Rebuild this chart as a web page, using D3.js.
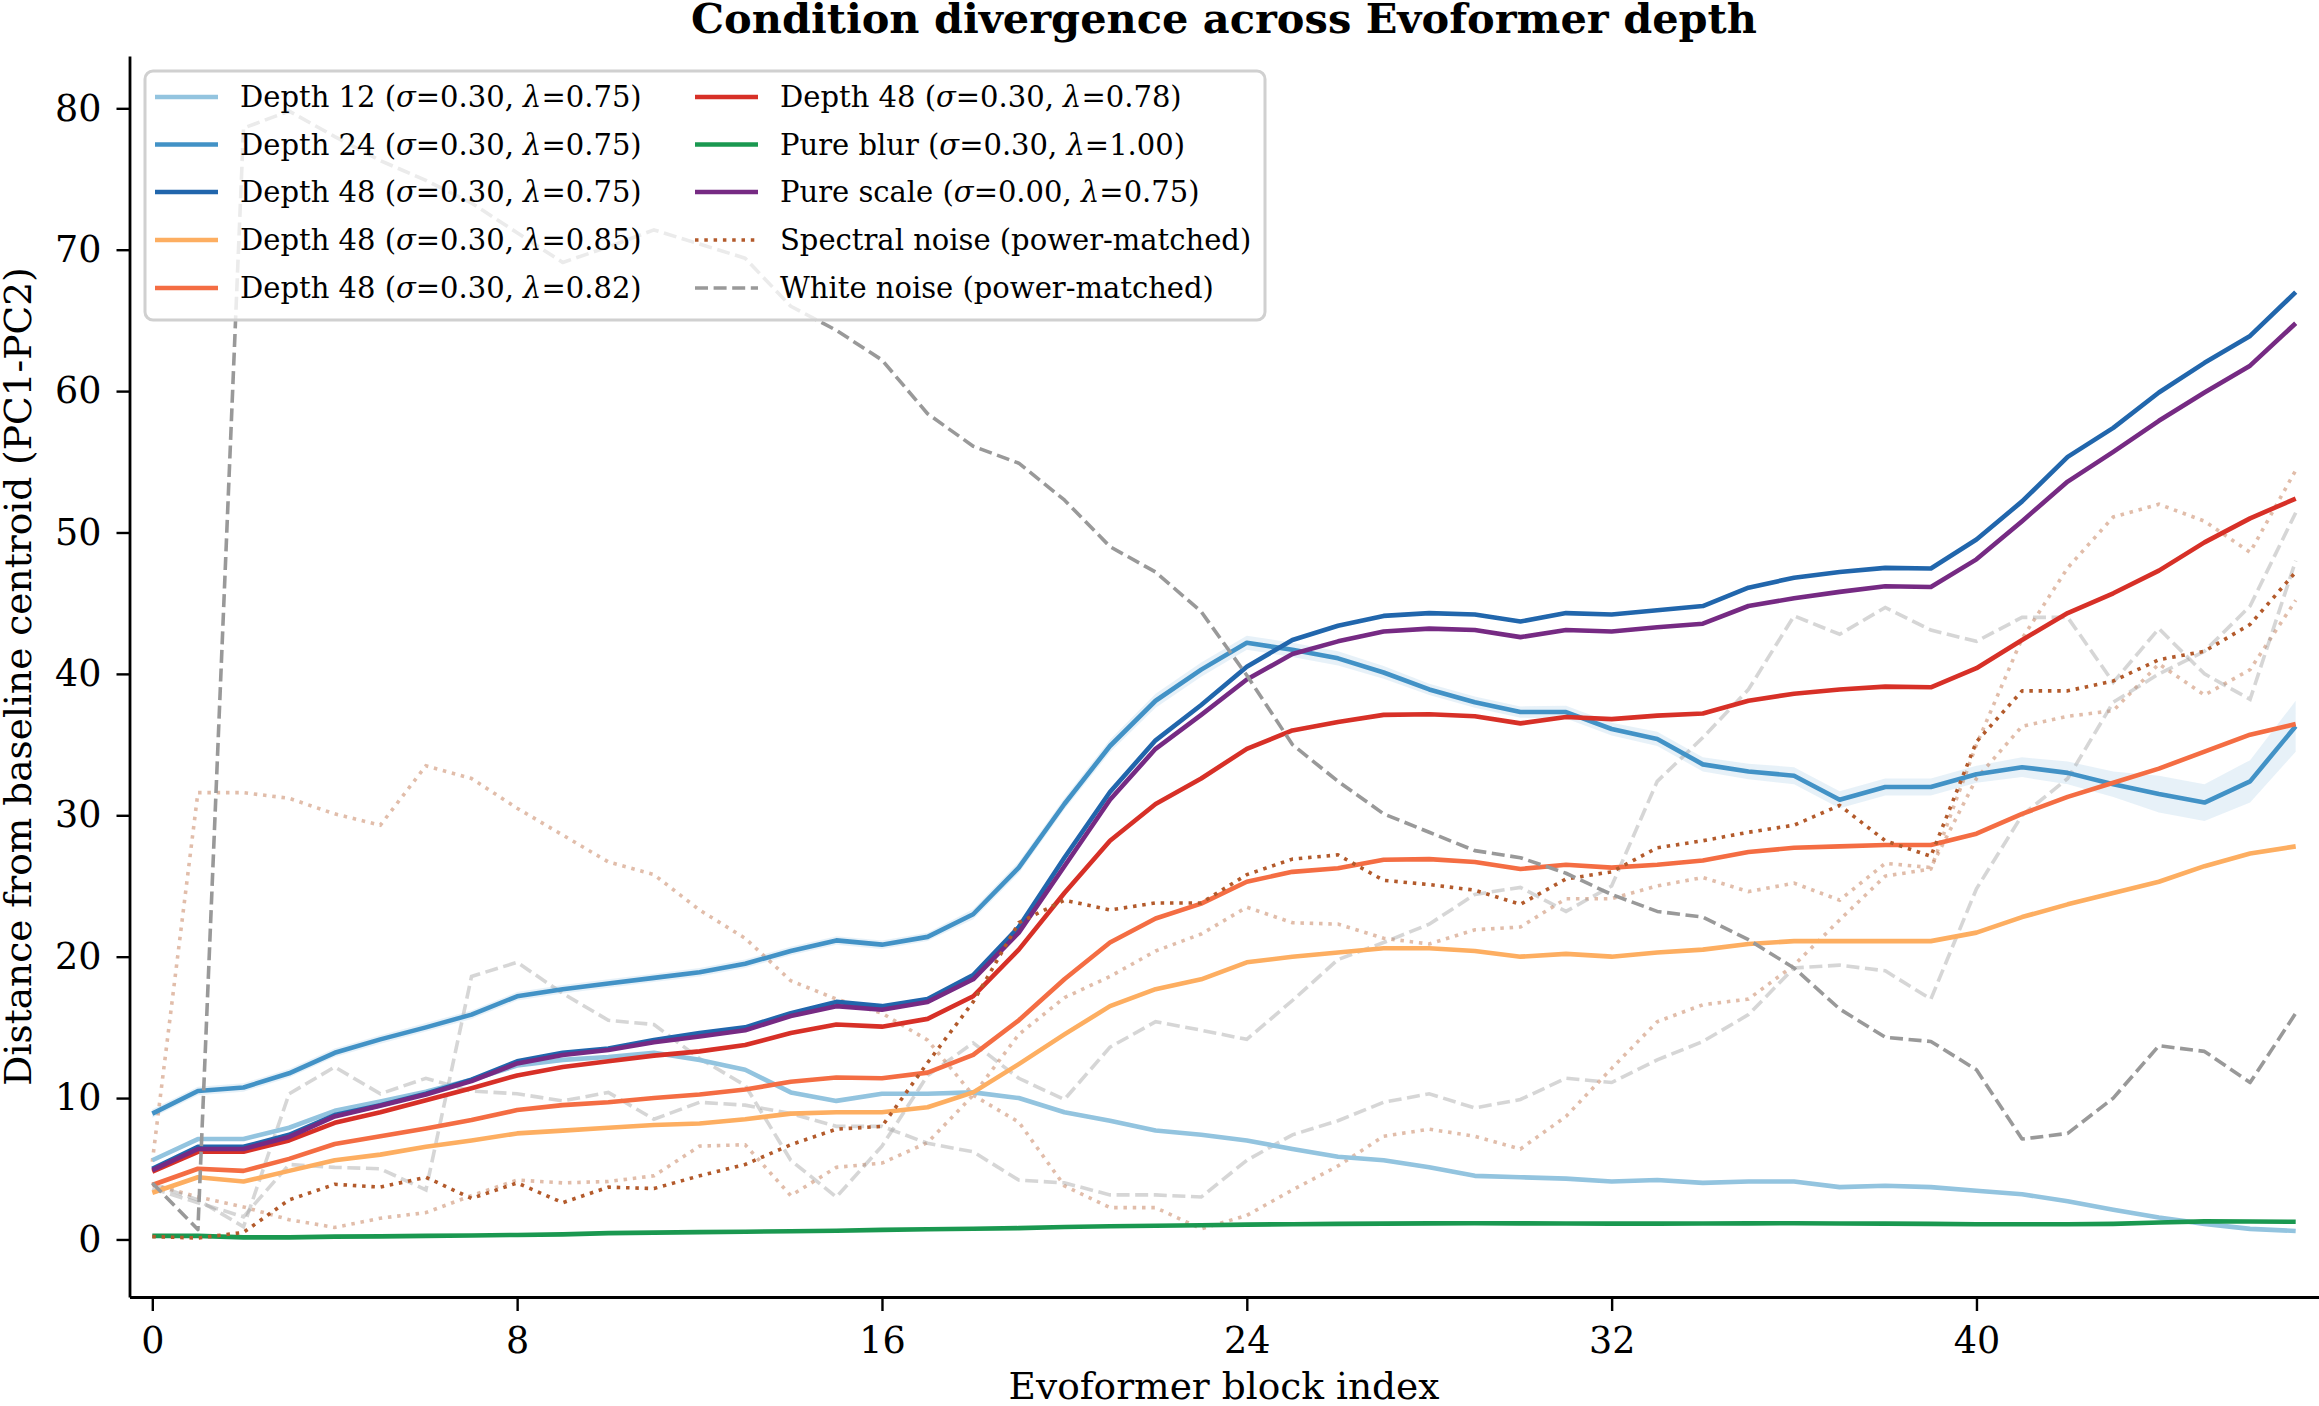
<!DOCTYPE html>
<html>
<head>
<meta charset="utf-8">
<script src="https://cdn.jsdelivr.net/npm/d3@7"></script>
<style>
  body { margin: 0; background: #fff; }
  svg text { font-family: "DejaVu Serif", serif; fill: #000; }
</style>
</head>
<body>
<div id="chart"></div>
<script>
// distance from baseline centroid, one value per Evoformer block (0..47)
var depth12 = [5.6, 7.1, 7.1, 7.9, 9.1, 9.75, 10.45, 11.3, 12.3, 12.7, 12.9, 13.2, 12.7, 12.0, 10.4, 9.8, 10.3, 10.3, 10.4, 10.0, 9.0, 8.4, 7.7, 7.4, 7.0, 6.4, 5.85, 5.6, 5.1, 4.5, 4.4, 4.3, 4.1, 4.2, 4.0, 4.1, 4.1, 3.7, 3.8, 3.7, 3.45, 3.2, 2.7, 2.1, 1.55, 1.1, 0.75, 0.6];
var depth24 = [8.9, 10.5, 10.75, 11.75, 13.2, 14.15, 15.0, 15.9, 17.2, 17.7, 18.1, 18.5, 18.9, 19.5, 20.4, 21.15, 20.85, 21.4, 23.0, 26.3, 30.8, 34.9, 38.1, 40.3, 42.2, 41.7, 41.1, 40.1, 38.9, 38.0, 37.3, 37.3, 36.1, 35.4, 33.6, 33.1, 32.8, 31.1, 32.0, 32.0, 32.9, 33.4, 33.0, 32.2, 31.5, 30.9, 32.4, 36.3];
var depth24Spread = [0.3, 0.3, 0.3, 0.3, 0.3, 0.3, 0.3, 0.3, 0.3, 0.3, 0.3, 0.3, 0.3, 0.3, 0.3, 0.3, 0.3, 0.3, 0.35, 0.4, 0.4, 0.45, 0.5, 0.5, 0.5, 0.5, 0.5, 0.45, 0.4, 0.4, 0.4, 0.45, 0.45, 0.5, 0.5, 0.55, 0.6, 0.6, 0.6, 0.6, 0.6, 0.7, 0.8, 0.9, 1.3, 1.3, 1.5, 1.8];
var depth48_075 = [5.0, 6.55, 6.55, 7.4, 8.8, 9.5, 10.3, 11.3, 12.6, 13.2, 13.5, 14.1, 14.6, 15.0, 16.0, 16.8, 16.5, 17.0, 18.7, 22.1, 27.0, 31.65, 35.3, 37.8, 40.5, 42.4, 43.4, 44.1, 44.3, 44.2, 43.7, 44.3, 44.2, 44.5, 44.8, 46.1, 46.8, 47.2, 47.5, 47.45, 49.5, 52.2, 55.35, 57.4, 59.9, 62.0, 63.9, 67.0];
var depth48_085 = [3.3, 4.4, 4.1, 4.85, 5.6, 6.0, 6.55, 7.0, 7.5, 7.7, 7.9, 8.1, 8.2, 8.5, 8.9, 9.0, 9.0, 9.35, 10.4, 12.4, 14.5, 16.5, 17.7, 18.4, 19.6, 20.0, 20.3, 20.6, 20.6, 20.4, 20.0, 20.2, 20.0, 20.3, 20.5, 20.9, 21.1, 21.1, 21.1, 21.1, 21.7, 22.8, 23.7, 24.5, 25.3, 26.4, 27.3, 27.8];
var depth48_082 = [3.85, 5.0, 4.85, 5.7, 6.75, 7.3, 7.85, 8.45, 9.15, 9.5, 9.7, 10.0, 10.25, 10.6, 11.15, 11.45, 11.4, 11.8, 13.05, 15.5, 18.4, 21.0, 22.7, 23.75, 25.3, 26.0, 26.25, 26.85, 26.9, 26.7, 26.2, 26.5, 26.3, 26.5, 26.8, 27.4, 27.7, 27.8, 27.9, 27.9, 28.7, 30.1, 31.3, 32.3, 33.3, 34.5, 35.7, 36.45];
var depth48_078 = [4.8, 6.2, 6.2, 7.0, 8.25, 9.0, 9.85, 10.7, 11.6, 12.2, 12.6, 13.0, 13.3, 13.75, 14.6, 15.2, 15.05, 15.6, 17.2, 20.5, 24.5, 28.2, 30.8, 32.6, 34.7, 36.0, 36.6, 37.1, 37.15, 37.0, 36.5, 36.95, 36.8, 37.05, 37.2, 38.1, 38.6, 38.9, 39.1, 39.05, 40.4, 42.4, 44.3, 45.7, 47.3, 49.3, 51.0, 52.4];
var pureBlur = [0.25, 0.25, 0.15, 0.15, 0.2, 0.22, 0.25, 0.28, 0.32, 0.36, 0.45, 0.48, 0.52, 0.55, 0.58, 0.62, 0.68, 0.72, 0.76, 0.8, 0.88, 0.93, 0.97, 1.0, 1.05, 1.08, 1.1, 1.12, 1.14, 1.15, 1.14, 1.13, 1.12, 1.12, 1.13, 1.14, 1.15, 1.13, 1.12, 1.1, 1.08, 1.07, 1.07, 1.1, 1.2, 1.28, 1.27, 1.25];
var pureScale = [4.9, 6.4, 6.4, 7.25, 8.7, 9.45, 10.25, 11.2, 12.45, 13.05, 13.4, 13.95, 14.35, 14.8, 15.8, 16.5, 16.25, 16.8, 18.4, 21.7, 26.4, 31.1, 34.7, 37.1, 39.6, 41.4, 42.3, 43.0, 43.2, 43.1, 42.6, 43.1, 43.0, 43.3, 43.55, 44.8, 45.35, 45.8, 46.2, 46.15, 48.1, 50.8, 53.6, 55.7, 57.9, 59.9, 61.8, 64.8];
var spectralNoise = [0.2, 0.1, 0.5, 2.8, 3.9, 3.7, 4.4, 2.9, 4.0, 2.6, 3.7, 3.6, 4.5, 5.3, 6.7, 7.8, 8.0, 12.5, 16.8, 22.4, 24.0, 23.3, 23.8, 23.8, 25.8, 26.9, 27.2, 25.4, 25.1, 24.7, 23.7, 25.5, 26.0, 27.7, 28.2, 28.8, 29.3, 30.7, 28.2, 27.1, 35.2, 38.8, 38.8, 39.5, 41.0, 41.6, 43.5, 47.2];
var whiteNoise = [4.0, 0.7, 78.6, 79.8, 78.0, 76.3, 74.9, 73.3, 71.2, 69.1, 70.2, 71.4, 70.4, 69.4, 66.0, 64.3, 62.2, 58.4, 56.1, 54.9, 52.3, 49.0, 47.2, 44.4, 39.9, 35.0, 32.4, 30.1, 28.8, 27.5, 27.0, 25.9, 24.4, 23.2, 22.8, 21.2, 19.2, 16.3, 14.3, 14.0, 12.0, 7.1, 7.5, 10.0, 13.7, 13.3, 11.1, 16.0];
// other noise runs, drawn faint and left out of the legend
var spectralFaintA = [5.5, 31.6, 31.6, 31.2, 30.1, 29.3, 33.5, 32.6, 30.5, 28.6, 26.7, 25.8, 23.3, 21.3, 18.3, 17.0, 16.0, 14.1, 10.2, 8.3, 3.8, 2.25, 2.25, 0.75, 1.7, 3.5, 5.2, 7.3, 7.8, 7.3, 6.4, 8.7, 12.1, 15.4, 16.6, 17.0, 19.4, 22.6, 25.7, 26.2, 35.0, 42.5, 47.5, 51.1, 52.0, 50.8, 48.6, 54.4];
var spectralFaintB = [3.9, 3.0, 2.3, 1.4, 0.85, 1.5, 1.9, 3.1, 4.2, 4.0, 4.1, 4.5, 6.6, 6.7, 3.1, 5.1, 5.4, 6.85, 10.2, 14.5, 17.1, 18.6, 20.4, 21.6, 23.5, 22.4, 22.3, 21.3, 20.9, 21.9, 22.1, 24.1, 24.1, 25.0, 25.6, 24.6, 25.2, 24.0, 26.6, 26.3, 32.6, 36.3, 37.0, 37.4, 40.7, 38.5, 40.3, 45.2];
var whiteFaintC = [3.9, 2.8, 0.9, 10.3, 12.2, 10.3, 11.4, 10.5, 10.3, 9.8, 10.4, 8.5, 9.7, 9.5, 8.9, 8.0, 8.0, 6.8, 6.2, 4.2, 4.0, 3.15, 3.15, 3.0, 5.6, 7.4, 8.4, 9.7, 10.3, 9.3, 9.9, 11.4, 11.1, 12.7, 14.0, 15.9, 19.2, 19.4, 19.0, 17.0, 24.8, 30.0, 32.6, 38.0, 40.0, 41.6, 44.8, 51.4];
var whiteFaintD = [3.6, 2.6, 1.6, 5.3, 5.1, 5.0, 3.5, 18.6, 19.6, 17.4, 15.5, 15.2, 12.8, 10.9, 5.6, 3.0, 6.6, 11.6, 13.9, 11.4, 9.9, 13.6, 15.4, 14.8, 14.15, 16.9, 19.8, 21.0, 22.3, 24.4, 24.9, 23.2, 25.0, 32.4, 35.5, 38.9, 44.1, 42.8, 44.7, 43.1, 42.3, 44.0, 44.0, 39.4, 43.2, 40.0, 38.2, 48.0];

var xTicks = [0, 8, 16, 24, 32, 40];
var yTicks = [0, 10, 20, 30, 40, 50, 60, 70, 80];

var width = 2319, height = 1406;

var svg = d3.select("#chart")
  .append("svg")
    .attr("width", width)
    .attr("height", height);

var x = d3.scaleLinear().domain([-0.5, 47.5]).range([129.5, 2318.5]);
var y = d3.scaleLinear().domain([-4.07, 83.7]).range([1297, 56]);

var line = d3.line()
  .x(function(d, i) { return x(i); })
  .y(function(d) { return y(d); });

var dotted = "3.5,5.8", dashed = "13,5.6";

var faint = [
  {values: spectralFaintA, color: "#b35a2b", dash: dotted},
  {values: spectralFaintB, color: "#b35a2b", dash: dotted},
  {values: whiteFaintC, color: "#999999", dash: dashed},
  {values: whiteFaintD, color: "#999999", dash: dashed}
];

var series = [
  {name: "Depth 12", s: "0.30", l: "0.75", values: depth12, color: "#93c4df"},
  {name: "Depth 24", s: "0.30", l: "0.75", values: depth24, color: "#4292c6"},
  {name: "Depth 48", s: "0.30", l: "0.75", values: depth48_075, color: "#2166ac"},
  {name: "Depth 48", s: "0.30", l: "0.85", values: depth48_085, color: "#fdae61"},
  {name: "Depth 48", s: "0.30", l: "0.82", values: depth48_082, color: "#f46d43"},
  {name: "Depth 48", s: "0.30", l: "0.78", values: depth48_078, color: "#d73027"},
  {name: "Pure blur", s: "0.30", l: "1.00", values: pureBlur, color: "#1a9850"},
  {name: "Pure scale", s: "0.00", l: "0.75", values: pureScale, color: "#762a83"},
  {name: "Spectral noise (power-matched)", values: spectralNoise, color: "#b35a2b", dash: dotted},
  {name: "White noise (power-matched)", values: whiteNoise, color: "#999999", dash: dashed}
];

svg.append("clipPath").attr("id", "plot-area")
  .append("rect")
    .attr("x", x(-0.5)).attr("y", y(83.7))
    .attr("width", x(47.5) - x(-0.5)).attr("height", y(-4.07) - y(83.7));

var plot = svg.append("g").attr("clip-path", "url(#plot-area)");

// band around Depth 24
var band = d3.area()
  .x(function(d, i) { return x(i); })
  .y0(function(d, i) { return y(d - depth24Spread[i]); })
  .y1(function(d, i) { return y(d + depth24Spread[i]); });

plot.append("path")
  .datum(depth24)
  .attr("d", band)
  .style("fill", "#4292c6")
  .style("fill-opacity", 0.13);

plot.selectAll("path.faint")
  .data(faint)
  .enter()
  .append("path")
    .attr("class", "faint")
    .attr("d", function(d) { return line(d.values); })
    .style("fill", "none")
    .style("stroke", function(d) { return d.color; })
    .style("stroke-opacity", 0.4)
    .style("stroke-width", 3.6)
    .style("stroke-dasharray", function(d) { return d.dash; });

plot.selectAll("path.series")
  .data(series)
  .enter()
  .append("path")
    .attr("class", "series")
    .attr("d", function(d) { return line(d.values); })
    .style("fill", "none")
    .style("stroke", function(d) { return d.color; })
    .style("stroke-width", function(d) { return d.dash ? 3.6 : 4.6; })
    .style("stroke-linejoin", "round")
    .style("stroke-dasharray", function(d) { return d.dash || null; });

// axes
var xAxis = svg.append("g")
  .attr("transform", "translate(0," + y(-4.07) + ")")
  .call(d3.axisBottom(x).tickValues(xTicks).tickSize(14).tickPadding(16).tickSizeOuter(0));

var yAxis = svg.append("g")
  .attr("transform", "translate(" + x(-0.5) + ",0)")
  .call(d3.axisLeft(y).tickValues(yTicks).tickSize(13).tickPadding(15).tickSizeOuter(0));

[xAxis, yAxis].forEach(function(g) {
  g.attr("font-family", "DejaVu Serif").attr("font-size", 36.5);
  g.select(".domain").style("stroke", "#000").style("stroke-width", 2.8);
  g.selectAll(".tick line").style("stroke", "#000").style("stroke-width", 2.4);
  g.selectAll(".tick text").style("fill", "#000");
});

svg.append("text")
  .attr("x", (x(-0.5) + x(47.5)) / 2)
  .attr("y", 33)
  .attr("text-anchor", "middle")
  .style("font-size", "41.5px")
  .style("font-weight", "bold")
  .text("Condition divergence across Evoformer depth");

svg.append("text")
  .attr("x", (x(-0.5) + x(47.5)) / 2)
  .attr("y", 1399)
  .attr("text-anchor", "middle")
  .style("font-size", "37.5px")
  .text("Evoformer block index");

svg.append("text")
  .attr("transform", "translate(31," + (y(-4.07) + y(83.7)) / 2 + ") rotate(-90)")
  .attr("text-anchor", "middle")
  .style("font-size", "37.5px")
  .text("Distance from baseline centroid (PC1-PC2)");

// legend
var legend = svg.append("g");

legend.append("rect")
  .attr("x", 145).attr("y", 71)
  .attr("width", 1120).attr("height", 249)
  .attr("rx", 8)
  .style("fill", "#fff")
  .style("fill-opacity", 0.8)
  .style("stroke", "#d0d0d0")
  .style("stroke-width", 3);

var rowY = [97, 144.5, 192, 240, 288];

var item = legend.selectAll("g.item")
  .data(series)
  .enter()
  .append("g")
    .attr("class", "item")
    .attr("transform", function(d, i) {
      var col = i < 5 ? 0 : 1;
      return "translate(" + (col ? 695 : 155) + "," + rowY[i % 5] + ")";
    });

item.append("line")
  .attr("x1", 0).attr("x2", 63)
  .style("stroke", function(d) { return d.color; })
  .style("stroke-width", function(d) { return d.dash ? 3.6 : 4.6; })
  .style("stroke-dasharray", function(d) { return d.dash || null; });

var label = item.append("text")
  .attr("x", 85)
  .attr("y", 10)
  .style("font-size", "29px");

label.each(function(d) {
  var t = d3.select(this);
  if (!d.s) { t.text(d.name); return; }
  t.append("tspan").text(d.name + " (");
  t.append("tspan").style("font-style", "italic").text("σ");
  t.append("tspan").text("=" + d.s + ", ");
  t.append("tspan").style("font-style", "italic").text("λ");
  t.append("tspan").text("=" + d.l + ")");
});
</script>
</body>
</html>
